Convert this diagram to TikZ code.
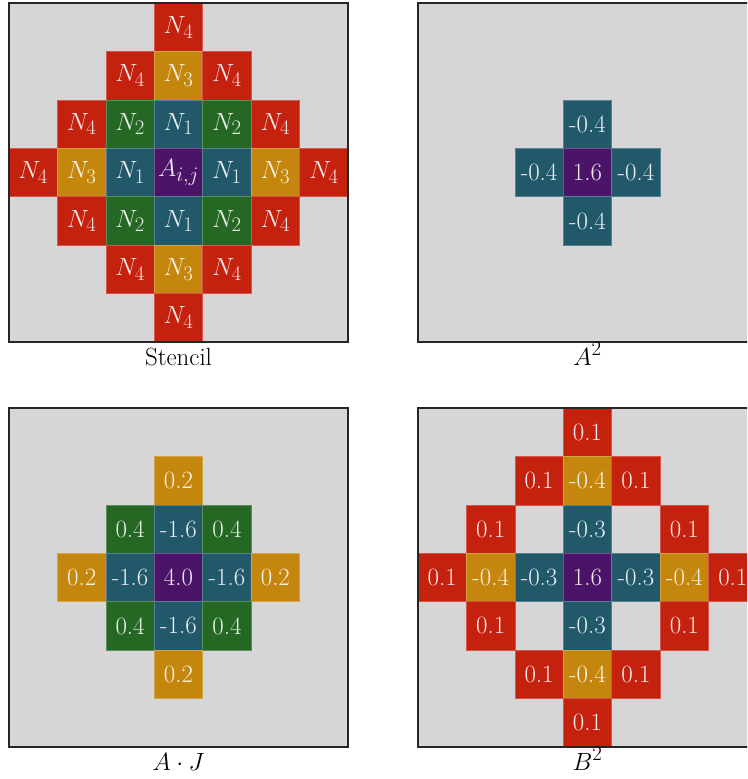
\documentclass[tikz,border=0pt]{standalone}
\definecolor{bg}{RGB}{214,214,214}
\definecolor{cR}{RGB}{196,33,15}
\definecolor{cO}{RGB}{196,134,12}
\definecolor{cG}{RGB}{36,104,35}
\definecolor{cT}{RGB}{33,89,106}
\definecolor{cP}{RGB}{76,20,104}
\tikzset{
 cellbox/.style={draw=#1!75!white, fill=#1, line width=0.6pt, minimum size=48.43pt, inner sep=0pt,
   text=white, text opacity=0.9, font=\fontsize{24.88}{29}\selectfont},
 panelbg/.style={fill=bg},
 panelframe/.style={draw=black!85, line width=1.1pt},
 caption/.style={anchor=base, inner sep=0pt, text=black, font=\fontsize{24.88}{29}\selectfont}
}
\newcommand\mycell[7]{\node[cellbox=#6] (#1) at ({#2+(#5+0.5)*48.4286},{#3+(#4+0.5)*48.4286}) {#7};}
\begin{document}
\begin{tikzpicture}[x=1pt,y=-1pt]
\useasboundingbox (0,0) rectangle (747,779);
\clip (0,0) rectangle (747,779);
% ---------- Stencil ----------
\def\PX{9}\def\PY{3}
\fill[panelbg] (\PX,\PY) rectangle ++(339,339);
\mycell{s03}{\PX}{\PY}{0}{3}{cR}{$N_4$}
\mycell{s12}{\PX}{\PY}{1}{2}{cR}{$N_4$}
\mycell{s13}{\PX}{\PY}{1}{3}{cO}{$N_3$}
\mycell{s14}{\PX}{\PY}{1}{4}{cR}{$N_4$}
\mycell{s21}{\PX}{\PY}{2}{1}{cR}{$N_4$}
\mycell{s22}{\PX}{\PY}{2}{2}{cG}{$N_2$}
\mycell{s23}{\PX}{\PY}{2}{3}{cT}{$N_1$}
\mycell{s24}{\PX}{\PY}{2}{4}{cG}{$N_2$}
\mycell{s25}{\PX}{\PY}{2}{5}{cR}{$N_4$}
\mycell{s30}{\PX}{\PY}{3}{0}{cR}{$N_4$}
\mycell{s31}{\PX}{\PY}{3}{1}{cO}{$N_3$}
\mycell{s32}{\PX}{\PY}{3}{2}{cT}{$N_1$}
\mycell{s33}{\PX}{\PY}{3}{3}{cP}{$A_{i,j}$}
\mycell{s34}{\PX}{\PY}{3}{4}{cT}{$N_1$}
\mycell{s35}{\PX}{\PY}{3}{5}{cO}{$N_3$}
\mycell{s36}{\PX}{\PY}{3}{6}{cR}{$N_4$}
\mycell{s41}{\PX}{\PY}{4}{1}{cR}{$N_4$}
\mycell{s42}{\PX}{\PY}{4}{2}{cG}{$N_2$}
\mycell{s43}{\PX}{\PY}{4}{3}{cT}{$N_1$}
\mycell{s44}{\PX}{\PY}{4}{4}{cG}{$N_2$}
\mycell{s45}{\PX}{\PY}{4}{5}{cR}{$N_4$}
\mycell{s52}{\PX}{\PY}{5}{2}{cR}{$N_4$}
\mycell{s53}{\PX}{\PY}{5}{3}{cO}{$N_3$}
\mycell{s54}{\PX}{\PY}{5}{4}{cR}{$N_4$}
\mycell{s63}{\PX}{\PY}{6}{3}{cR}{$N_4$}
\draw[panelframe] (\PX,\PY) rectangle ++(339,339);
\node[caption] (capS) at (178.5,365) {Stencil};
% ---------- A^2 ----------
\def\PX{418}\def\PY{3}
\fill[panelbg] (\PX,\PY) rectangle ++(339,339);
\mycell{a23}{\PX}{\PY}{2}{3}{cT}{-0.4}
\mycell{a32}{\PX}{\PY}{3}{2}{cT}{-0.4}
\mycell{a33}{\PX}{\PY}{3}{3}{cP}{1.6}
\mycell{a34}{\PX}{\PY}{3}{4}{cT}{-0.4}
\mycell{a43}{\PX}{\PY}{4}{3}{cT}{-0.4}
\draw[panelframe] (\PX,\PY) rectangle ++(339,339);
\node[caption] (capA) at (587.5,365) {$A^2$};
% ---------- A.J ----------
\def\PX{9}\def\PY{408}
\fill[panelbg] (\PX,\PY) rectangle ++(339,339);
\mycell{j13}{\PX}{\PY}{1}{3}{cO}{0.2}
\mycell{j22}{\PX}{\PY}{2}{2}{cG}{0.4}
\mycell{j23}{\PX}{\PY}{2}{3}{cT}{-1.6}
\mycell{j24}{\PX}{\PY}{2}{4}{cG}{0.4}
\mycell{j31}{\PX}{\PY}{3}{1}{cO}{0.2}
\mycell{j32}{\PX}{\PY}{3}{2}{cT}{-1.6}
\mycell{j33}{\PX}{\PY}{3}{3}{cP}{4.0}
\mycell{j34}{\PX}{\PY}{3}{4}{cT}{-1.6}
\mycell{j35}{\PX}{\PY}{3}{5}{cO}{0.2}
\mycell{j42}{\PX}{\PY}{4}{2}{cG}{0.4}
\mycell{j43}{\PX}{\PY}{4}{3}{cT}{-1.6}
\mycell{j44}{\PX}{\PY}{4}{4}{cG}{0.4}
\mycell{j53}{\PX}{\PY}{5}{3}{cO}{0.2}
\draw[panelframe] (\PX,\PY) rectangle ++(339,339);
\node[caption] (capJ) at (178.5,770) {$A\cdot J$};
% ---------- B^2 ----------
\def\PX{418}\def\PY{408}
\fill[panelbg] (\PX,\PY) rectangle ++(339,339);
\mycell{b03}{\PX}{\PY}{0}{3}{cR}{0.1}
\mycell{b12}{\PX}{\PY}{1}{2}{cR}{0.1}
\mycell{b13}{\PX}{\PY}{1}{3}{cO}{-0.4}
\mycell{b14}{\PX}{\PY}{1}{4}{cR}{0.1}
\mycell{b21}{\PX}{\PY}{2}{1}{cR}{0.1}
\mycell{b23}{\PX}{\PY}{2}{3}{cT}{-0.3}
\mycell{b25}{\PX}{\PY}{2}{5}{cR}{0.1}
\mycell{b30}{\PX}{\PY}{3}{0}{cR}{0.1}
\mycell{b31}{\PX}{\PY}{3}{1}{cO}{-0.4}
\mycell{b32}{\PX}{\PY}{3}{2}{cT}{-0.3}
\mycell{b33}{\PX}{\PY}{3}{3}{cP}{1.6}
\mycell{b34}{\PX}{\PY}{3}{4}{cT}{-0.3}
\mycell{b35}{\PX}{\PY}{3}{5}{cO}{-0.4}
\mycell{b36}{\PX}{\PY}{3}{6}{cR}{0.1}
\mycell{b41}{\PX}{\PY}{4}{1}{cR}{0.1}
\mycell{b43}{\PX}{\PY}{4}{3}{cT}{-0.3}
\mycell{b45}{\PX}{\PY}{4}{5}{cR}{0.1}
\mycell{b52}{\PX}{\PY}{5}{2}{cR}{0.1}
\mycell{b53}{\PX}{\PY}{5}{3}{cO}{-0.4}
\mycell{b54}{\PX}{\PY}{5}{4}{cR}{0.1}
\mycell{b63}{\PX}{\PY}{6}{3}{cR}{0.1}
\draw[panelframe] (\PX,\PY) rectangle ++(339,339);
\node[caption] (capB) at (587.5,770) {$B^2$};
\end{tikzpicture}
\end{document}
